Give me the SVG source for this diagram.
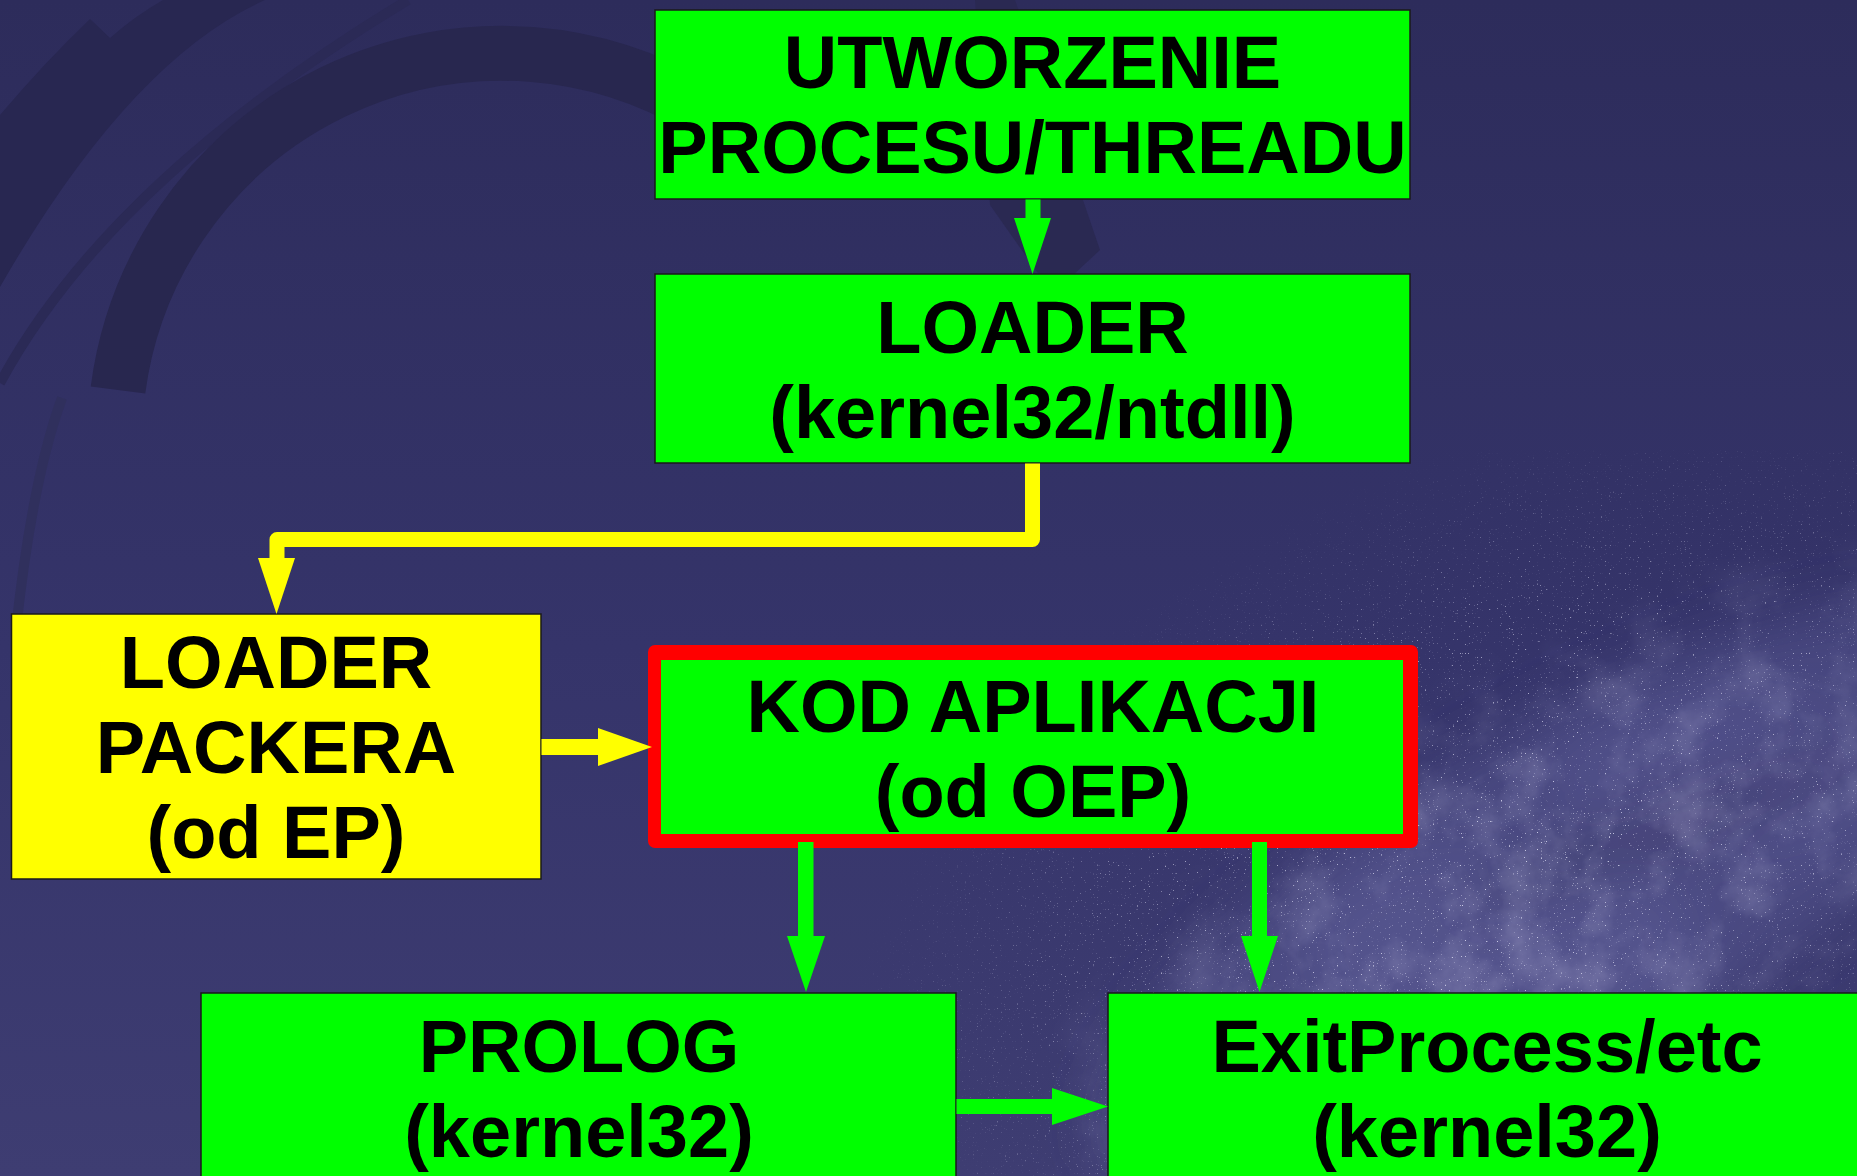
<svg xmlns="http://www.w3.org/2000/svg" width="1857" height="1176" viewBox="0 0 1857 1176">
<style>
.box{stroke:#1a1a1a;stroke-width:1.5}
.g{fill:#00ff00}
.y{fill:#ffff00}
.t{font-family:"Liberation Sans",Arial,sans-serif;font-weight:bold;font-size:74px;fill:#000;text-anchor:middle}
.ag{fill:#00ff00}
.ay{fill:#ffff00}
</style>
<defs>
<linearGradient id="bg" x1="0" y1="0" x2="0" y2="1">
<stop offset="0" stop-color="#2d2c5b"/>
<stop offset="0.55" stop-color="#35346a"/>
<stop offset="1" stop-color="#3e3d72"/>
</linearGradient>
<radialGradient id="fade" cx="0.5" cy="0.5" r="0.5">
<stop offset="0" stop-color="#fff" stop-opacity="1"/>
<stop offset="0.55" stop-color="#fff" stop-opacity="0.7"/>
<stop offset="1" stop-color="#fff" stop-opacity="0"/>
</radialGradient>
<filter id="blur" x="-30%" y="-30%" width="160%" height="160%"><feGaussianBlur stdDeviation="28"/></filter>
<filter id="clouds" x="0" y="0" width="100%" height="100%">
<feTurbulence type="fractalNoise" baseFrequency="0.018" numOctaves="5" seed="4" result="n"/>
<feColorMatrix in="n" type="matrix" values="0 0 0 0 0.5  0 0 0 0 0.5  0 0 0 0 0.72  2.0 0 0 0 -0.85"/>
</filter>
<filter id="stars" x="0" y="0" width="100%" height="100%">
<feTurbulence type="fractalNoise" baseFrequency="0.75" numOctaves="1" seed="7" result="n"/>
<feColorMatrix in="n" type="matrix" values="0 0 0 0 0.85  0 0 0 0 0.85  0 0 0 0 1  10 0 0 0 -6.8"/>
</filter>
<mask id="mwmask"><ellipse cx="1560" cy="900" rx="620" ry="260" fill="url(#fade)" transform="rotate(-30 1560 900)"/></mask>
<mask id="starmask"><ellipse cx="1500" cy="880" rx="700" ry="420" fill="url(#fade)" transform="rotate(-25 1500 880)"/></mask>
</defs>

<g id="background">
<rect width="1857" height="1176" fill="url(#bg)"/>
<path d="M0,115 Q45,62 90,19 L110,38 Q135,16 163,0 L265,0 Q130,60 0,287 Z" fill="#282751"/>
<path d="M0,383 Q110,180 408,0" fill="none" stroke="#2b2a56" stroke-width="10"/>
<path d="M118,390 A387,387 0 0 1 700,108" fill="none" stroke="#28274f" stroke-width="55"/>
<path d="M62,398 Q32,480 16,630" fill="none" stroke="#30305d" stroke-width="10"/>
<polygon points="975,0 1015,0 1100,250 1072,276 1040,276 990,205" fill="#2a2952"/>
<g filter="url(#blur)">
<ellipse cx="1560" cy="900" rx="520" ry="170" fill="#5a5a94" opacity="0.5" transform="rotate(-30 1560 900)"/>
<ellipse cx="1500" cy="950" rx="200" ry="110" fill="#6464a0" opacity="0.35"/>
<ellipse cx="1720" cy="780" rx="170" ry="90" fill="#6464a0" opacity="0.3"/>
<ellipse cx="1660" cy="830" rx="220" ry="26" fill="#2c2b58" opacity="0.4" transform="rotate(-20 1660 830)"/>
</g>
<rect x="900" y="450" width="957" height="726" filter="url(#clouds)" mask="url(#mwmask)" opacity="0.4"/>
<rect x="800" y="450" width="1057" height="726" filter="url(#stars)" mask="url(#starmask)" opacity="0.8"/>
</g>

<g id="node-utworzenie">
<rect class="box g" x="655" y="10" width="755" height="189"/>
<text class="t" x="1032.5" y="88">UTWORZENIE</text>
<text class="t" x="1032.5" y="173">PROCESU/THREADU</text>
</g>
<g id="node-loader">
<rect class="box g" x="655" y="274" width="755" height="189"/>
<text class="t" x="1032.5" y="353">LOADER</text>
<text class="t" x="1032.5" y="438">(kernel32/ntdll)</text>
</g>
<g id="node-loader-packera">
<rect class="box y" x="11.5" y="614" width="529.5" height="265"/>
<text class="t" x="276" y="688">LOADER</text>
<text class="t" x="276" y="773">PACKERA</text>
<text class="t" x="276" y="858">(od EP)</text>
</g>
<g id="node-kod-aplikacji">
<rect x="648" y="645" width="770" height="203" rx="7" fill="#ff0000"/>
<rect class="g" x="661" y="660" width="742" height="174"/>
<text class="t" x="1033" y="732">KOD APLIKACJI</text>
<text class="t" x="1033" y="817">(od OEP)</text>
</g>
<g id="node-prolog">
<rect class="box g" x="201" y="993" width="755" height="210"/>
<text class="t" x="579" y="1072">PROLOG</text>
<text class="t" x="579" y="1157">(kernel32)</text>
</g>
<g id="node-exitprocess">
<rect class="box g" x="1108" y="993" width="760" height="210"/>
<text class="t" x="1487" y="1072">ExitProcess/etc</text>
<text class="t" x="1487" y="1157">(kernel32)</text>
</g>

<g id="connectors">
<rect class="ag" x="1025.5" y="199.5" width="15" height="19"/>
<polygon class="ag" points="1014,218 1051,218 1032.5,274"/>
<path d="M1032.5,463.5 V539.5 H277 V559" fill="none" stroke="#ffff00" stroke-width="15" stroke-linejoin="round"/>
<polygon class="ay" points="258,558 295,558 276.5,614"/>
<rect class="ay" x="541.5" y="739" width="57.5" height="16"/>
<polygon class="ay" points="598,728 598,766 652,747"/>
<rect class="ag" x="798" y="842" width="15.5" height="95"/>
<polygon class="ag" points="787,936 825,936 806,992"/>
<rect class="ag" x="1252" y="842" width="15" height="95"/>
<polygon class="ag" points="1241,936 1278,936 1259.5,992"/>
<rect class="ag" x="956.5" y="1099" width="96.5" height="15"/>
<polygon class="ag" points="1052,1088 1052,1125 1108,1106.5"/>
</g>
</svg>
